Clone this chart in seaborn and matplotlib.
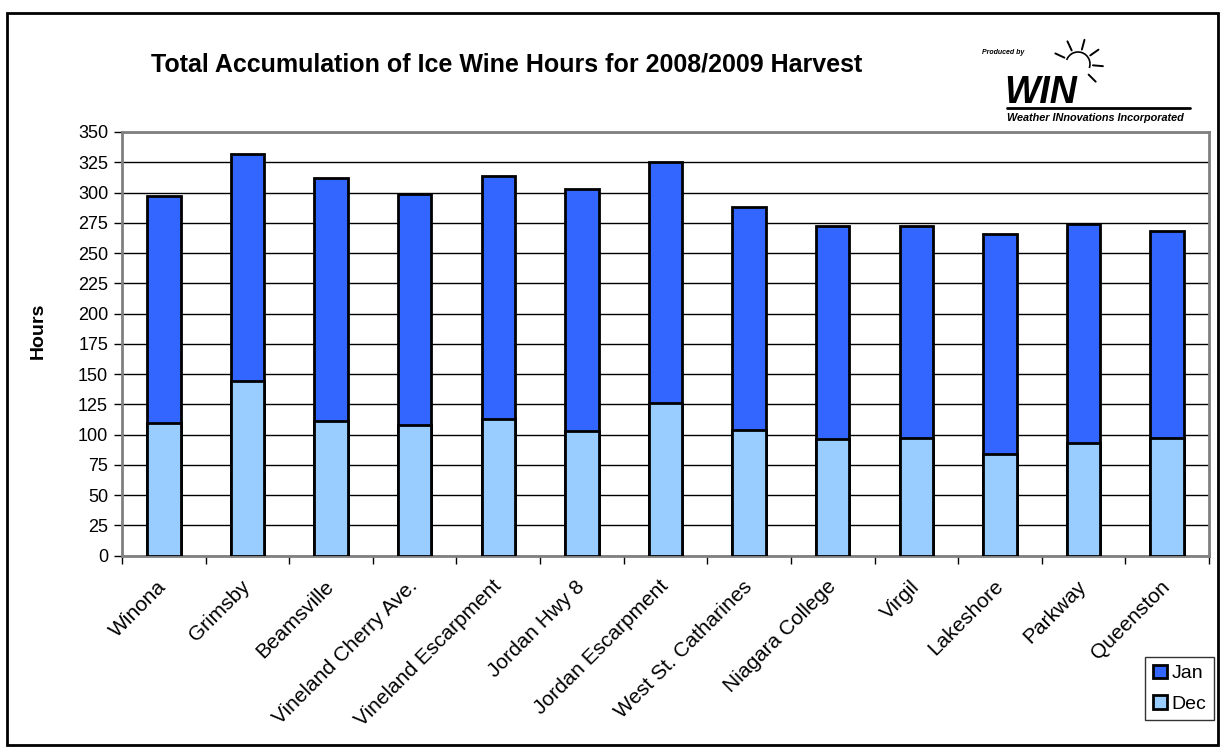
import numpy as np
import pandas as pd
import matplotlib
matplotlib.use("Agg")
import matplotlib.pyplot as plt
import matplotlib.transforms as mtransforms
from matplotlib.patches import Rectangle, Patch, Arc
from matplotlib.lines import Line2D
import seaborn as sns

# ── data (hours) ─────────────────────────────────────────────────────────────
STATIONS = ["Winona", "Grimsby", "Beamsville", "Vineland Cherry Ave.",
            "Vineland Escarpment", "Jordan Hwy 8", "Jordan Escarpment",
            "West St. Catharines", "Niagara College", "Virgil",
            "Lakeshore", "Parkway", "Queenston"]
DEC_HOURS = [110, 144, 111, 108, 113, 103, 126, 104, 96, 97, 84, 93, 97]
JAN_HOURS = [187, 188, 201, 191, 201, 200, 199, 184, 176, 175, 182, 181, 171]
Y_TICKS = list(range(0, 351, 25))

JAN_COLOR = "#3366FF"
DEC_COLOR = "#99CCFF"
W, H = 1225, 752

sns.set_theme(style="white")
plt.rcParams["font.family"] = ["Liberation Sans", "DejaVu Sans"]
plt.rcParams["text.color"] = "black"
plt.rcParams["axes.labelcolor"] = "black"
plt.rcParams["xtick.color"] = "black"
plt.rcParams["ytick.color"] = "black"

df = pd.DataFrame({"station": STATIONS, "dec": DEC_HOURS, "jan": JAN_HOURS})
df["total"] = df["dec"] + df["jan"]

fig = plt.figure(figsize=(W / 100, H / 100), dpi=100)
ax = fig.add_axes([122 / W, 1 - 555.7 / H, (1209 - 122) / W, (555.7 - 132) / H])

# stacked bars: full height in Jan colour, Dec drawn over the bottom part
sns.barplot(data=df, x="station", y="total", color=JAN_COLOR, width=0.4,
            edgecolor="black", linewidth=2, saturation=1, ax=ax, zorder=3)
sns.barplot(data=df, x="station", y="dec", color=DEC_COLOR, width=0.4,
            edgecolor="black", linewidth=2, saturation=1, ax=ax, zorder=4)

ax.set_xlim(-0.5, len(STATIONS) - 0.5)
ax.set_ylim(0, 350)
ax.set_yticks(Y_TICKS)
ax.yaxis.grid(True, color="black", linewidth=1, zorder=0)
ax.xaxis.grid(False)
ax.set_axisbelow(True)

ax.set_xlabel("")
ax.set_ylabel("Hours", fontsize=14, fontweight="bold")
ax.yaxis.set_label_coords(-0.069, 0.53)
ax.set_xticks(range(len(STATIONS)))
ax.set_xticklabels(STATIONS, rotation=45, ha="right", va="center",
                   rotation_mode="anchor", fontsize=15)
shift = mtransforms.ScaledTranslation(-3 / 100, 0, fig.dpi_scale_trans)
for lbl in ax.get_xticklabels():
    lbl.set_transform(lbl.get_transform() + shift)
ax.set_xticks(np.arange(-0.5, len(STATIONS)), minor=True)
ax.tick_params(axis="x", which="major", length=0, pad=20)
ax.tick_params(axis="x", which="minor", length=6, color="black",
               width=1, direction="out", bottom=True)
ax.tick_params(axis="y", length=6, color="black", width=1,
               direction="out", left=True, labelsize=13, pad=4)
for sp in ax.spines.values():
    sp.set_color("#808080")
    sp.set_linewidth(2)
    sp.set_visible(True)

# legend
handles = [Patch(facecolor=JAN_COLOR, edgecolor="black", linewidth=2, label="Jan"),
           Patch(facecolor=DEC_COLOR, edgecolor="black", linewidth=2, label="Dec")]
leg = fig.legend(handles=handles, loc="upper right",
                 bbox_to_anchor=(1214 / W, 1 - 657 / H),
                 bbox_transform=fig.transFigure, fontsize=14,
                 frameon=True, fancybox=False, handlelength=0.7,
                 handleheight=0.7, handletextpad=0.25, borderpad=0.4,
                 labelspacing=0.65, borderaxespad=0)
leg.get_frame().set_edgecolor("black")
leg.get_frame().set_linewidth(1)

# title
fig.text(507 / W, 1 - 64 / H,
         "Total Accumulation of Ice Wine Hours for 2008/2009 Harvest",
         ha="center", va="center", fontsize=18, fontweight="bold")

# logo (text-based)
fig.text(982 / W, 1 - 53 / H, "Produced by", fontsize=5,
         style="italic", fontweight="bold", va="center")
fig.text(1004 / W, 1 - 103 / H, "WIN", fontsize=27,
         style="italic", fontweight="bold", va="baseline")
fig.text(1007 / W, 1 - 118 / H, "Weather INnovations Incorporated",
         fontsize=7.8, style="italic", fontweight="bold", va="center")
fig.add_artist(Line2D([1007 / W, 1190 / W], [1 - 108 / H, 1 - 108 / H],
                      transform=fig.transFigure, color="black", lw=2))
cx, cy = 1078, 64
fig.add_artist(Arc((cx / W, 1 - cy / H), 24 / W, 24 / H,
                   theta1=-30, theta2=150, transform=fig.transFigure,
                   color="black", lw=1.2))
for ang in [-45, -5, 35, 75, 115, 155]:
    a = np.deg2rad(ang)
    x0, y0 = cx + 15 * np.cos(a), cy - 15 * np.sin(a)
    x1, y1 = cx + 25 * np.cos(a), cy - 25 * np.sin(a)
    fig.add_artist(Line2D([x0 / W, x1 / W], [1 - y0 / H, 1 - y1 / H],
                          transform=fig.transFigure, color="black", lw=1.4))

# outer chart border
fig.add_artist(Rectangle((7 / W, 1 - 745 / H), (1218 - 7) / W,
                         (745 - 13) / H, transform=fig.transFigure,
                         fill=False, edgecolor="black", linewidth=2))

fig.savefig("out.png", dpi=100)
